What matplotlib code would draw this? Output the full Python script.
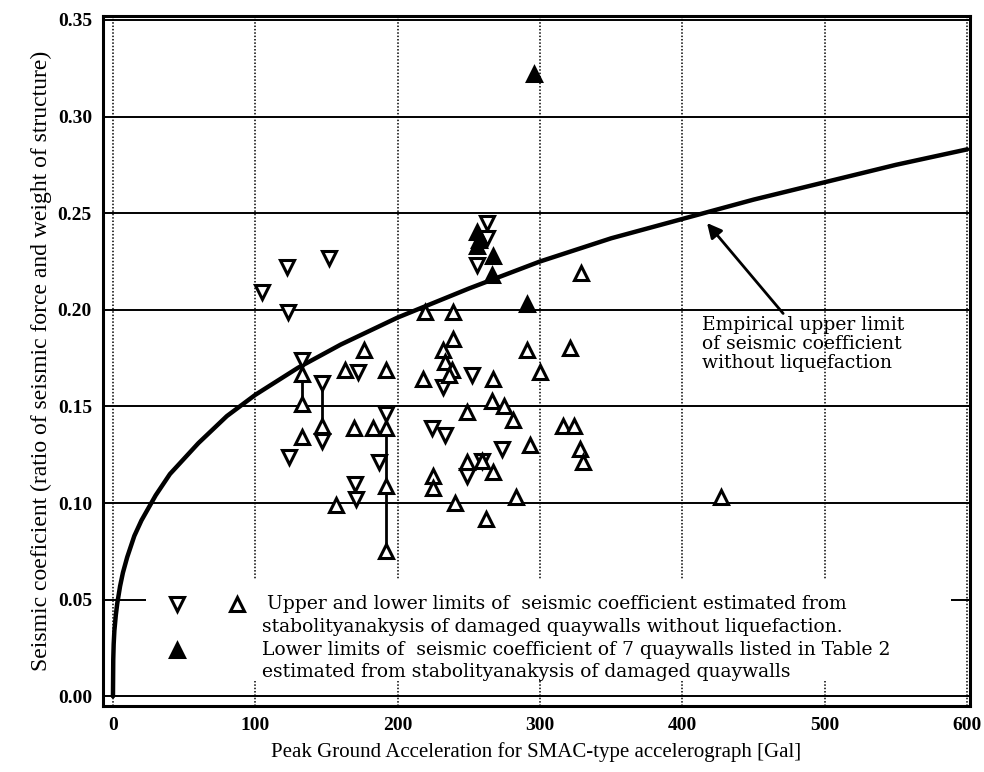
import matplotlib.pyplot as plt
from matplotlib.patches import Rectangle

# empirical upper limit curve
curve_gal = [0, 0.2, 0.5, 1, 2, 3, 5, 7, 10, 15, 20, 30, 40, 60, 80, 100, 130, 160,
             200, 250, 300, 350, 400, 450, 500, 550, 600]
curve_k = [0.0, 0.019, 0.027, 0.034, 0.042, 0.048, 0.057, 0.064, 0.072, 0.083, 0.091,
           0.104, 0.115, 0.131, 0.145, 0.156, 0.170, 0.182, 0.196, 0.211, 0.225,
           0.237, 0.247, 0.257, 0.266, 0.275, 0.283]

# upper limits (open down triangles)
upper_gal = [105, 122, 123, 152, 124, 133, 147, 147, 172, 192, 187, 170, 171,
             224, 233, 232, 252, 249, 259, 273, 263, 263, 256]
upper_k = [0.209, 0.222, 0.199, 0.227, 0.124, 0.174, 0.162, 0.132, 0.168, 0.146,
           0.121, 0.110, 0.102, 0.139, 0.135, 0.160, 0.166, 0.114, 0.122, 0.128,
           0.245, 0.237, 0.223]

# lower limits (open up triangles)
lower_gal = [133, 133, 133, 147, 157, 163, 176, 169, 183, 192, 192, 192, 192,
             219, 239, 218, 225, 225, 240, 232, 233, 239, 238, 236, 249, 249,
             259, 267, 262, 266, 267, 275, 281, 283, 291, 293, 300, 316, 324,
             321, 328, 330, 329, 427]
lower_k = [0.167, 0.151, 0.134, 0.140, 0.099, 0.169, 0.179, 0.139, 0.139, 0.169,
           0.139, 0.109, 0.075, 0.199, 0.199, 0.164, 0.114, 0.108, 0.100, 0.179,
           0.173, 0.185, 0.169, 0.166, 0.147, 0.121, 0.122, 0.116, 0.092, 0.153,
           0.164, 0.150, 0.143, 0.103, 0.179, 0.130, 0.168, 0.140, 0.140, 0.180,
           0.128, 0.121, 0.219, 0.103]

# lower limits of the 7 quaywalls in Table 2 (filled)
table2_gal = [256, 257, 256, 267, 266, 291, 296]
table2_k = [0.240, 0.236, 0.233, 0.228, 0.218, 0.203, 0.322]

# ranges joined by a vertical bar
range_gal = [133, 147, 192]
range_lo = [0.151, 0.140, 0.075]
range_hi = [0.174, 0.162, 0.146]

xticks = [0, 100, 200, 300, 400, 500, 600]
yticks = [0.00, 0.05, 0.10, 0.15, 0.20, 0.25, 0.30, 0.35]

serif = 'Liberation Serif'
legfont = 'DejaVu Serif'

fig = plt.figure(figsize=(9.84, 7.72), dpi=100)
ax = fig.add_axes([103 / 984, 66 / 772, 867 / 984, 690 / 772])
ax.set_xlim(-7, 602)
ax.set_ylim(-0.005, 0.352)

for y in yticks:
    ax.axhline(y, color='black', lw=1.4, zorder=1)
for x in xticks:
    ax.axvline(x, color='black', lw=1.1, ls=(0, (1, 1.2)), zorder=1)

ax.plot(curve_gal, curve_k, color='black', lw=3.2, zorder=3, solid_capstyle='round')

ax.vlines(range_gal, range_lo, range_hi, color='black', lw=2, zorder=3)
mk = dict(ls='none', ms=9.5, mew=2.2, mec='black', zorder=4)
ax.plot(upper_gal, upper_k, marker='v', mfc='white', **mk)
ax.plot(lower_gal, lower_k, marker='^', mfc='white', **mk)
ax.plot(table2_gal, table2_k, marker='^', mfc='black', **mk)

ax.annotate('', xy=(416, 0.246), xytext=(472, 0.197),
            arrowprops=dict(arrowstyle='-|>', color='black', lw=2, mutation_scale=22),
            zorder=5)
ax.text(414, 0.197, 'Empirical upper limit\nof seismic coefficient\nwithout liquefaction',
        fontsize=13.5, family=legfont, va='top', ha='left', linespacing=1.1, zorder=5)

# legend block, drawn over the grid
ax.add_patch(Rectangle((23, 0.008), 566, 0.052, facecolor='white', edgecolor='none',
                       zorder=2))
ax.plot([45], [0.048], marker='v', mfc='white', **mk)
ax.plot([87], [0.048], marker='^', mfc='white', **mk)
ax.plot([45], [0.024], marker='^', mfc='black', **mk)
lg = dict(fontsize=13.5, family=legfont, va='center', zorder=5)
ax.text(108, 0.048, 'Upper and lower limits of  seismic coefficient estimated from', **lg)
ax.text(105, 0.036, 'stabolityanakysis of damaged quaywalls without liquefaction.', **lg)
ax.text(105, 0.024, 'Lower limits of  seismic coefficient of 7 quaywalls listed in Table 2', **lg)
ax.text(105, 0.0125, 'estimated from stabolityanakysis of damaged quaywalls', **lg)

ax.set_xticks(xticks)
ax.set_yticks(yticks)
ax.set_xticklabels([str(v) for v in xticks], fontsize=14, fontweight='bold', family=serif)
ax.set_yticklabels(['%.2f' % v for v in yticks], fontsize=14, fontweight='bold', family=serif)
ax.tick_params(length=0, pad=8)

for s in ax.spines.values():
    s.set_linewidth(2.2)

ax.set_xlabel('Peak Ground Acceleration for SMAC-type accelerograph [Gal]',
              fontsize=15, family=serif, labelpad=6)
ax.set_ylabel('Seismic coeficient (ratio of seismic force and weight of structure)',
              fontsize=17, family=serif, labelpad=4)

plt.savefig('out.png', dpi=100)
